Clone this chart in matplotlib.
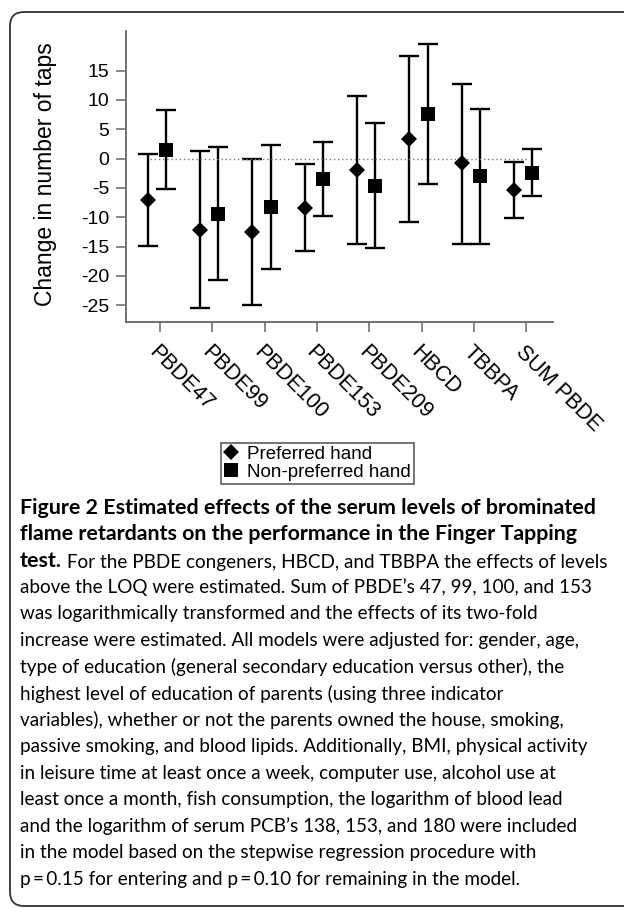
import matplotlib
matplotlib.use("Agg")
from matplotlib import pyplot as plt
from matplotlib.lines import Line2D
from matplotlib.patches import FancyBboxPatch
import numpy as np

categories = ["PBDE47", "PBDE99", "PBDE100", "PBDE153", "PBDE209", "HBCD", "TBBPA", "SUM PBDE"]

# preferred hand: estimate and 95% CI
pref_est = [-7.1, -12.2, -12.5, -8.5, -1.9, 3.3, -0.8, -5.4]
pref_low = [-14.9, -25.5, -24.9, -15.8, -14.5, -10.8, -14.5, -10.1]
pref_high = [0.7, 1.3, 0.0, -1.0, 10.7, 17.5, 12.7, -0.6]

# non-preferred hand
nonpref_est = [1.5, -9.4, -8.2, -3.5, -4.6, 7.6, -2.9, -2.4]
nonpref_low = [-5.1, -20.7, -18.9, -9.8, -15.3, -4.3, -14.5, -6.45]
nonpref_high = [8.2, 2.0, 2.4, 2.8, 6.1, 19.5, 8.5, 1.6]

y_ticks = [15, 10, 5, 0, -5, -10, -15, -20, -25]

legend_labels = ["Preferred hand", "Non-preferred hand"]
y_label = "Change in number of taps"

caption_bold = [
    "Figure 2 Estimated effects of the serum levels of brominated",
    "flame retardants on the performance in the Finger Tapping",
    "test.",
]
caption_lines = [
    " For the PBDE congeners, HBCD, and TBBPA the effects of levels",
    "above the LOQ were estimated. Sum of PBDE\u2019s 47, 99, 100, and 153",
    "was logarithmically transformed and the effects of its two-fold",
    "increase were estimated. All models were adjusted for: gender, age,",
    "type of education (general secondary education versus other), the",
    "highest level of education of parents (using three indicator",
    "variables), whether or not the parents owned the house, smoking,",
    "passive smoking, and blood lipids. Additionally, BMI, physical activity",
    "in leisure time at least once a week, computer use, alcohol use at",
    "least once a month, fish consumption, the logarithm of blood lead",
    "and the logarithm of serum PCB\u2019s 138, 153, and 180 were included",
    "in the model based on the stepwise regression procedure with",
    "p\u2009=\u20090.15 for entering and p\u2009=\u20090.10 for remaining in the model.",
]

W, H = 624, 908


def text_width(ax, r, s, **kw):
    t = ax.text(0, 0, s, fontsize=10, **kw)
    w = t.get_window_extent(r).width
    t.remove()
    return w


def main():
    plt.rcParams["font.family"] = ["Liberation Sans", "DejaVu Sans"]
    fig = plt.figure(figsize=(W / 100, H / 100), dpi=100)

    # background axes in pixel units for the frame and caption
    bg = fig.add_axes([0, 0, 1, 1])
    bg.set_xlim(0, W)
    bg.set_ylim(H, 0)
    bg.axis("off")
    bg.add_patch(FancyBboxPatch((10, 12), 660, 894, boxstyle="round,pad=0,rounding_size=14",
                                fill=False, edgecolor="#333333", linewidth=1.3))

    ax = fig.add_axes([126 / W, 1 - 322.3 / H, (553.3 - 126) / W, (322.3 - 30.7) / H])
    x = np.arange(1, len(categories) + 1)
    xd = x - 0.235
    xs = x + 0.115

    err_kw = dict(fmt="none", ecolor="black", elinewidth=1.7, capsize=7.2, capthick=1.7)
    ax.errorbar(xd, pref_est, yerr=[np.subtract(pref_est, pref_low), np.subtract(pref_high, pref_est)], **err_kw)
    ax.errorbar(xs, nonpref_est, yerr=[np.subtract(nonpref_est, nonpref_low), np.subtract(nonpref_high, nonpref_est)], **err_kw)
    ax.plot(xd, pref_est, "D", color="black", markersize=8, markeredgewidth=0, zorder=5)
    ax.plot(xs, nonpref_est, "s", color="black", markersize=10, markeredgewidth=0, zorder=5)

    ax.hlines(0, xd[0] + 0.04, xs[-1] - 0.08, colors="#777777", linestyles=(0, (1, 2)), linewidth=1)

    ax.set_xlim(0.35, 8.52)
    ax.set_ylim(-27.9, 21.8)
    ax.set_yticks(y_ticks)
    ax.set_yticklabels([str(v) for v in y_ticks])
    ax.set_xticks(x)
    ax.set_xticklabels(categories, rotation=-45, ha="left", va="top", rotation_mode="anchor")

    for side in ["top", "right"]:
        ax.spines[side].set_visible(False)
    for side in ["left", "bottom"]:
        ax.spines[side].set_color("#666666")
        ax.spines[side].set_linewidth(1.3)
    ax.tick_params(axis="both", direction="out", length=7.2, width=1.1, color="#666666")
    ax.tick_params(axis="y", pad=5, labelsize=14)
    ax.tick_params(axis="x", pad=7, labelsize=15.5)

    fig.text(46 / W, 1 - 174 / H, y_label, rotation=90, ha="center", va="center", fontsize=16.5)

    # legend
    handles = [Line2D([], [], marker="D", color="black", linestyle="none", markersize=8, markeredgewidth=0),
               Line2D([], [], marker="s", color="black", linestyle="none", markersize=10, markeredgewidth=0)]
    leg = ax.legend(handles, legend_labels, loc="upper left", bbox_to_anchor=(220.7 / W, 1 - 442.7 / H),
                    bbox_transform=fig.transFigure, borderaxespad=0, fontsize=13.5, frameon=True, fancybox=False,
                    handlelength=0.8, handletextpad=0.45, borderpad=0.15, labelspacing=0.05)
    leg.get_frame().set_edgecolor("#333333")
    leg.get_frame().set_linewidth(1.2)

    # caption, font sizes fitted so the lines span the box like the original
    cap_font = ["Lato", "DejaVu Sans"]
    left = 20
    y0, dy = 508, 26.5
    fig.canvas.draw()
    r = fig.canvas.get_renderer()
    fs_b = 10 * (598 - left) / text_width(bg, r, caption_bold[0], family=cap_font, weight="bold")
    w_test = text_width(bg, r, caption_bold[2], family=cap_font, weight="bold") * fs_b / 10
    fs = 10 * (606 - left - w_test) / text_width(bg, r, caption_lines[0], family=cap_font)

    for i, line in enumerate(caption_bold):
        t = bg.text(left, y0 + i * dy, line, fontsize=fs_b, family=cap_font, weight="bold", va="center")
    bg.annotate(caption_lines[0], xy=(1, 0), xycoords=t, va="bottom", ha="left", fontsize=fs, family=cap_font)
    for i, line in enumerate(caption_lines[1:]):
        bg.text(left, y0 + (i + 3) * dy, line, fontsize=fs, family=cap_font, va="center")

    fig.savefig("out.png", dpi=100)


if __name__ == "__main__":
    main()
